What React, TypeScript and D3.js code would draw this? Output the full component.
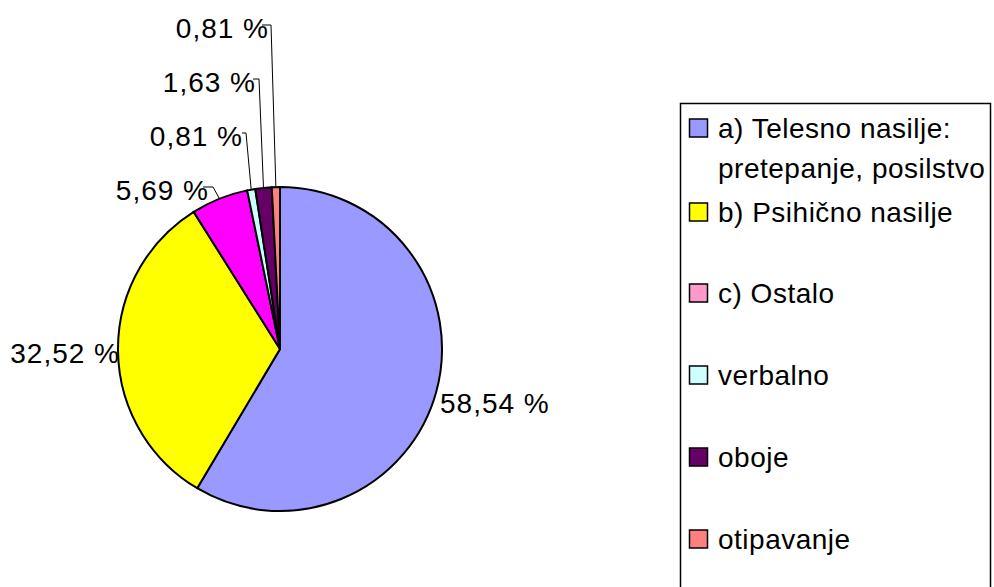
import React from "react";
import * as d3 from "d3";

const categories = [
  "a) Telesno nasilje: pretepanje, posilstvo",
  "b) Psihično nasilje",
  "c) Ostalo",
  "verbalno",
  "oboje",
  "otipavanje",
];
const legendLines = [
  ["a) Telesno nasilje:", "pretepanje, posilstvo"],
  ["b) Psihično nasilje"],
  ["c) Ostalo"],
  ["verbalno"],
  ["oboje"],
  ["otipavanje"],
];
const values = [58.54, 32.52, 5.69, 0.81, 1.63, 0.81];
const labels = ["58,54 %", "32,52 %", "5,69 %", "0,81 %", "1,63 %", "0,81 %"];
const sliceColors = ["#9999FF", "#FFFF00", "#FF00FF", "#CCFFFF", "#660066", "#FF8080"];
const legendColors = ["#9999FF", "#FFFF00", "#FF99CC", "#CCFFFF", "#660066", "#FF8080"];

// layout
const W = 994, H = 587;
const cx = 280, cy = 349, R = 162;
const FONT = "'Liberation Sans', Arial, sans-serif";
const FS = 28;
const labelLayout: { x: number; y: number; anchor: string; leader?: [number, number, number] }[] = [
  { x: 440, y: 403, anchor: "start" },
  { x: 120, y: 353, anchor: "end" },
  { x: 209, y: 190, anchor: "end", leader: [203, 213, 187] },
  { x: 243, y: 136, anchor: "end", leader: [242, 246, 133] },
  { x: 256, y: 82, anchor: "end", leader: [253, 259, 79] },
  { x: 269, y: 28, anchor: "end", leader: [262, 271, 25] },
];
const legendRowY = [[128, 168], [212], [293], [375], [457], [539]];
const legendBox = { x: 680.5, y: 103.5, w: 310, h: 520 };

export default function App() {
  const pie = d3
    .pie<number>()
    .value((d) => d)
    .sort(null)
    .startAngle(0)
    .endAngle(2 * Math.PI);
  const arcs = pie(values);
  const arc = d3.arc<d3.PieArcDatum<number>>().innerRadius(0).outerRadius(R);

  return (
    <svg
      width={W}
      height={H}
      style={{ position: "absolute", left: 0, top: 0, background: "#fff" }}
      fontFamily={FONT}
    >
      <g transform={`translate(${cx},${cy})`}>
        {arcs.map((a, i) => (
          <path key={i} d={arc(a) || ""} fill={sliceColors[i]} stroke="#000" strokeWidth={2} strokeLinejoin="round" />
        ))}
      </g>
      {arcs.map((a, i) => {
        const L = labelLayout[i];
        const mid = (a.startAngle + a.endAngle) / 2;
        const ex = cx + R * Math.sin(mid);
        const ey = cy - R * Math.cos(mid);
        return (
          <g key={i}>
            {L.leader && (
              <polyline
                points={`${L.leader[0]},${L.leader[2]} ${L.leader[1]},${L.leader[2]} ${ex},${ey}`}
                fill="none"
                stroke="#000"
                strokeWidth={1}
              />
            )}
            <text
              x={L.x}
              y={L.y + FS * 0.35}
              textAnchor={L.anchor as any}
              fontSize={FS}
              letterSpacing={1}
              fill="#000"
            >
              {labels[i]}
            </text>
          </g>
        );
      })}
      <rect
        x={legendBox.x}
        y={legendBox.y}
        width={legendBox.w}
        height={legendBox.h}
        fill="#fff"
        stroke="#000"
        strokeWidth={1.5}
      />
      {categories.map((c, i) => {
        const rows = legendRowY[i];
        return (
          <g key={c}>
            <rect x={689.5} y={rows[0] - 9} width={18} height={18} fill={legendColors[i]} stroke="#000" strokeWidth={1.5} />
            {legendLines[i].map((t, j) => (
              <text key={j} x={718} y={rows[j] + FS * 0.35} fontSize={FS} letterSpacing={0.5} fill="#000">
                {t}
              </text>
            ))}
          </g>
        );
      })}
    </svg>
  );
}
